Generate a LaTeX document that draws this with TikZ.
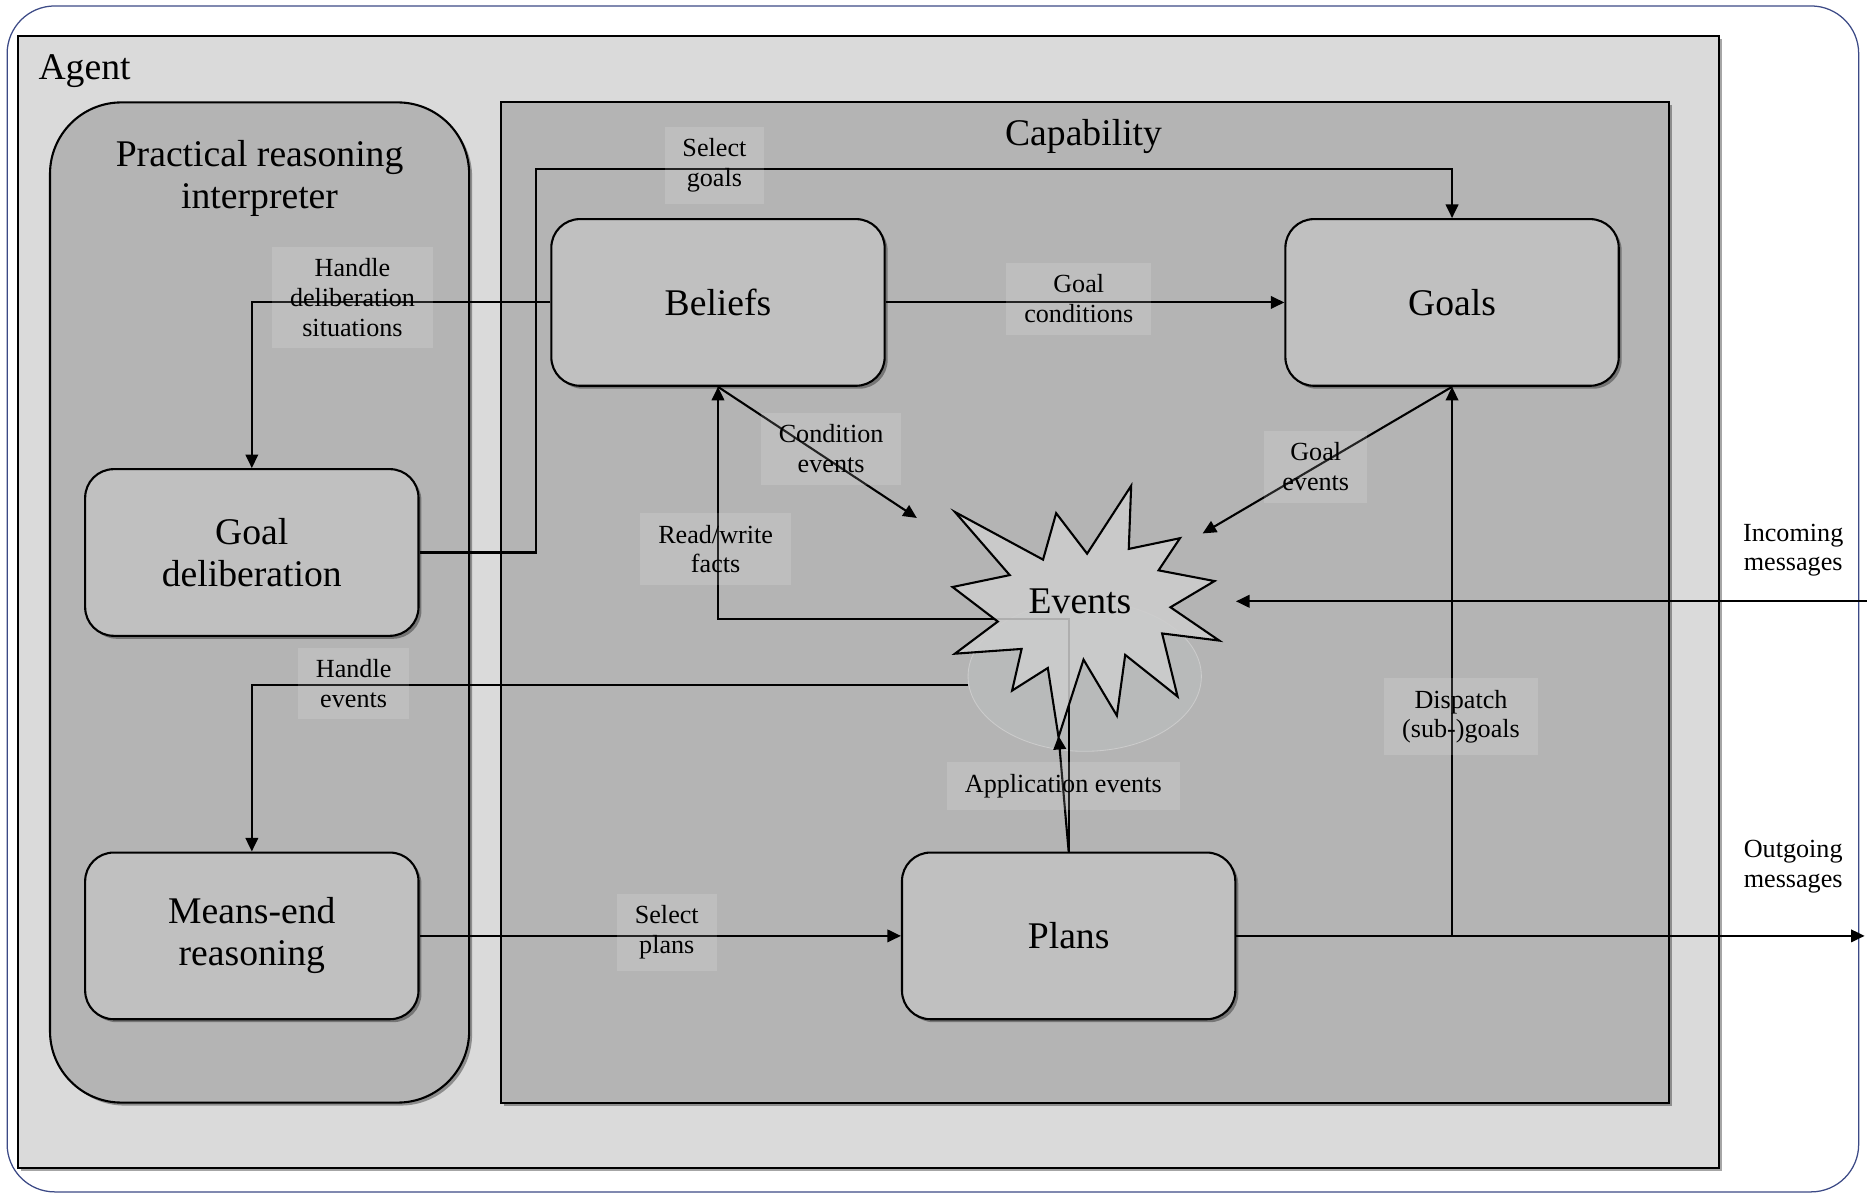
\documentclass[tikz,border=0pt]{standalone}
\usepackage{fontspec}
\setmainfont{Liberation Serif}
\usepackage{tikz}
\usetikzlibrary{positioning}
\usetikzlibrary{calc}
\usetikzlibrary{arrows.meta}
\usetikzlibrary{shadows}

\definecolor{agentgray}{HTML}{DADADA}
\definecolor{areagray}{HTML}{B4B4B4}
\definecolor{boxgray}{HTML}{C0C0C0}
\definecolor{stargray}{HTML}{CDCDCD}
\definecolor{ellgray}{HTML}{B8BABA}
\definecolor{framecol}{HTML}{3C4A86}

\tikzset{
  boxshadow/.style={drop shadow={shadow xshift=0.05cm, shadow yshift=-0.05cm, fill=black, opacity=0.35}},
  part/.style={draw, line width=1pt, fill=boxgray, rounded corners=0.48cm, minimum width=5.6cm, minimum height=2.8cm, align=center, font=\fontsize{18}{20}\selectfont, boxshadow},
  flow/.style={line width=1pt, -{Triangle[length=6.5pt,width=6pt]}},
  tag/.style={fill=white, fill opacity=0.14, text opacity=1, align=center, inner xsep=0.3cm, inner ysep=0.2cm, font=\fontsize{12.5}{14.2}\selectfont},
  head/.style={font=\fontsize{18}{20}\selectfont, align=center},
}

\begin{document}
\begin{tikzpicture}[x=0.02cm, y=-0.02cm]
\useasboundingbox (0,0) rectangle (1568,1004);

\draw[framecol, line width=0.6pt, rounded corners=0.8cm] (6,5) rectangle (1561,1001);

\draw[line width=1pt, fill=agentgray, boxshadow] (15,30) rectangle (1444,981);
\node[head, anchor=west, inner sep=0pt] (agent) at (32,60) {Agent};

\draw[line width=1pt, fill=areagray, rounded corners=1.2cm, boxshadow] (42,86) rectangle (394,926);
\node[head] (pri) at (218,150) {Practical reasoning\\interpreter};

\draw[line width=1pt, fill=areagray, boxshadow] (421,86) rectangle (1402,926);
\node[head] (cap) at (910,115) {Capability};

\node[part] (beliefs) at (603,254) {Beliefs};
\node[part] (goals) at (1219.5,254) {Goals};
\node[part] (gdel) at (211.5,464) {Goal\\deliberation};
\node[part] (means) at (211.5,786) {Means-end\\reasoning};
\node[part] (plans) at (897.5,786) {Plans};

\draw[draw=black!20, fill=ellgray] (911,568) ellipse [x radius=1.96cm, y radius=1.26cm];

\coordinate (sg) at (450,142);
\coordinate (cev) at (770,435);
\coordinate (gev) at (1010,448);
\coordinate (rw) at (603,520);
\coordinate (hev) at (813,575);
\coordinate (aev) at (889,618);
\coordinate (inc) at (1568,505);
\coordinate (evin) at (1038,505);
\coordinate (outg) at (1566,786);

\draw[flow] (gdel.east) -| (sg) -| (goals.north);
\draw[flow] (beliefs.west) -| (gdel.north);
\draw[flow] (beliefs.east) -- (goals.west);
\draw[flow] (beliefs.south) -- (cev);
\draw[flow] (goals.south) -- (gev);
\draw[flow] (plans.north) |- (rw) -- (beliefs.south);
\draw[flow] (hev) -| (means.north);
\draw[flow] (means.east) -- (plans.west);
\draw[flow] (plans.north) -- (aev);
\draw[flow] (plans.east) -| (goals.south);
\draw[flow] (plans.east) -- (outg);
\draw[flow] (inc) -- (evin);

\draw[line width=1pt, fill=stargray, fill opacity=0.85] (802,430) -- (876,470) -- (887,431) -- (913,465) -- (950,408) -- (948,461) -- (991,452) -- (973,479) -- (1020,488) -- (983,510) -- (1024,538) -- (976,532) -- (989,585) -- (945,550) -- (938,601) -- (910,554) -- (889,619) -- (880,561) -- (850,580) -- (858,545) -- (802,549) -- (838,522) -- (800,493) -- (848,483) -- cycle;
\node[head] (ev) at (907,505) {Events};

\node[tag] (lsg) at (600,139) {Select\\goals};
\node[tag] (lhd) at (296,250) {Handle\\deliberation\\situations};
\node[tag] (lgc) at (906,251) {Goal\\conditions};
\node[tag] (lce) at (698,377) {Condition\\events};
\node[tag] (lge) at (1105,392) {Goal\\events};
\node[tag] (lrw) at (601,461) {Read/write\\facts};
\node[tag] (lhe) at (297,574) {Handle\\events};
\node[tag] (lsp) at (560,783) {Select\\plans};
\node[tag] (lae) at (893,660) {Application events};
\node[tag] (ldg) at (1227,602) {Dispatch\\(sub-)goals};

\node[align=center, font=\fontsize{12.5}{14.2}\selectfont] (lin) at (1506,462) {Incoming\\messages};
\node[align=center, font=\fontsize{12.5}{14.2}\selectfont] (lout) at (1506,728) {Outgoing\\messages};
\end{tikzpicture}
\end{document}
